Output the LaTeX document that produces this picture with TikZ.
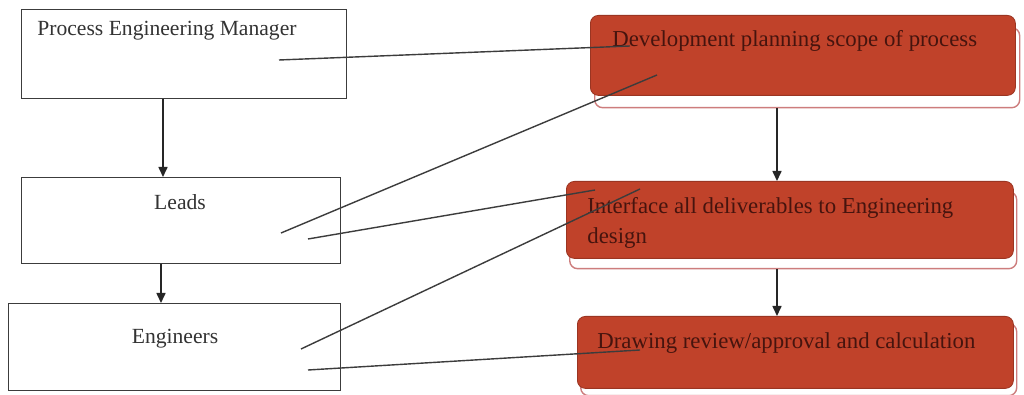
\documentclass[tikz,border=0pt]{standalone}
\usepackage{fontspec}
\setmainfont{Liberation Serif}
\usetikzlibrary{arrows.meta,calc}
\definecolor{boxred}{RGB}{192,66,42}
\definecolor{redtext}{RGB}{70,20,14}
\definecolor{shadowline}{RGB}{205,125,125}
\definecolor{linegray}{RGB}{60,60,60}
\tikzset{
  plainbox/.style={draw=linegray, line width=0.6pt, fill=white, inner sep=0pt, anchor=north west},
  redbox/.style={fill=boxred, draw=boxred!80!black, line width=0.4pt, rounded corners=4pt, inner sep=0pt, anchor=north west},
  redshadow/.style={fill=white, draw=shadowline, line width=0.7pt, rounded corners=4pt, inner sep=0pt, anchor=north west},
  lbl/.style={font=\fontsize{10.8}{13}\selectfont, text=black!80, inner sep=0pt},
  rlbl/.style={font=\fontsize{11.4}{15}\selectfont, text=redtext, inner sep=0pt, anchor=west, align=left},
  arr/.style={draw=black!85, line width=0.8pt, -{Triangle[length=5pt,width=4.5pt]}},
  conn/.style={draw=linegray, line width=0.7pt},
}
\begin{document}
\begin{tikzpicture}[x=0.5pt,y=-0.5pt]
\useasboundingbox (0,0) rectangle (1024,395);
\fill[white] (0,0) rectangle (1024,395);
% left boxes
\node[plainbox, minimum width=162.5pt, minimum height=44.5pt] (pem) at (21,9) {};
\node[plainbox, minimum width=159.5pt, minimum height=43pt] (leads) at (21,177) {};
\node[plainbox, minimum width=166pt, minimum height=43.5pt] (eng) at (8,303) {};
\node[lbl, anchor=west] (pemt) at (37,31) {Process Engineering Manager};
\node[lbl] (leadst) at (180,202) {Leads};
\node[lbl] (engt) at (175,339) {Engineers};
% right boxes with shadows
\node[redshadow, minimum width=212.5pt, minimum height=40pt] (s1) at (594,27) {};
\node[redbox, minimum width=212.5pt, minimum height=40pt] (b1) at (590,15) {};
\node[redshadow, minimum width=223.5pt, minimum height=38.5pt] (s2) at (569,191) {};
\node[redbox, minimum width=223.5pt, minimum height=38.5pt] (b2) at (566,181) {};
\node[redshadow, minimum width=218pt, minimum height=36pt] (s3) at (580,323) {};
\node[redbox, minimum width=218pt, minimum height=36pt] (b3) at (577,316) {};
\node[rlbl] (b1t) at (612,41) {Development planning scope of process};
\node[rlbl] (b2t) at (587,223) {Interface all deliverables to Engineering\\design};
\node[rlbl] (b3t) at (597,343) {Drawing review/approval and calculation};
% vertical arrows
\coordinate (xl1) at (163,0);
\coordinate (xl2) at (161,0);
\coordinate (xr) at (777,0);
\draw[arr] (pem.south -| xl1) -- (leads.north -| xl1);
\draw[arr] (leads.south -| xl2) -- (eng.north -| xl2);
\draw[arr] (s1.south -| xr) -- (b2.north -| xr);
\draw[arr] (s2.south -| xr) -- (b3.north -| xr);
% connector end points
\coordinate (p1a) at (279,60);
\coordinate (p1b) at (630,46);
\coordinate (p2a) at (281,233);
\coordinate (p2b) at (657,75);
\coordinate (p3a) at (308,239);
\coordinate (p3b) at (595,190);
\coordinate (p4a) at (301,349);
\coordinate (p4b) at (640,189);
\coordinate (p5a) at (308,370);
\coordinate (p5b) at (640,350);
\draw[conn] (p1a) -- (p1b);
\draw[conn] (p2a) -- (p2b);
\draw[conn] (p3a) -- (p3b);
\draw[conn] (p4a) -- (p4b);
\draw[conn] (p5a) -- (p5b);
\end{tikzpicture}
\end{document}
